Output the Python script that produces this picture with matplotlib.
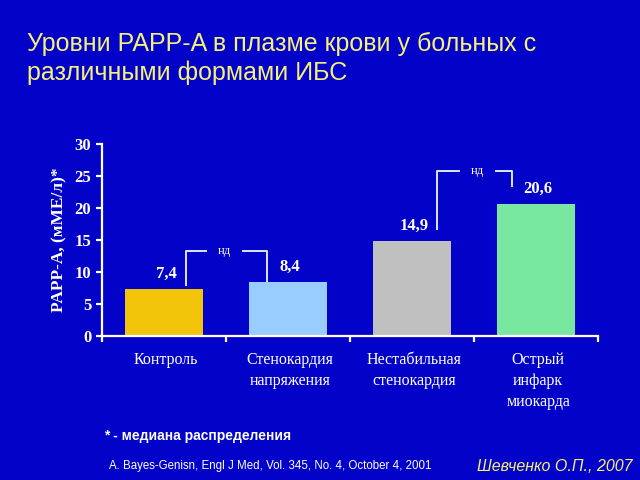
import numpy as np
import matplotlib.pyplot as plt

# данные
groups = ['Контроль', 'Стенокардия\nнапряжения', 'Нестабильная\nстенокардия', 'Острый\nинфарк\nмиокарда']
values = [7.4, 8.4, 14.9, 20.6]
value_labels = ['7,4', '8,4', '14,9', '20,6']
colors = ['#F2C40A', '#99CCFF', '#C0C0C0', '#78E8A0']

bg = '#0202C8'
yellow = '#F5F07A'

plt.rcParams['font.family'] = ['Liberation Serif', 'DejaVu Serif']

fig = plt.figure(figsize=(6.4, 4.8), dpi=100, facecolor=bg)
ax = fig.add_axes([0.159, 0.30, 0.775, 0.40], facecolor=bg)

x = np.arange(len(values))
ax.bar(x, values, width=0.63, color=colors, edgecolor='none')

ax.set_xlim(-0.5, 3.5)
ax.set_ylim(0, 30)
ax.set_yticks(range(0, 31, 5))
ax.set_xticks(np.arange(-0.5, 4, 1))
ax.set_xticklabels([])
for s in ['top', 'right']:
    ax.spines[s].set_visible(False)
for s in ['left', 'bottom']:
    ax.spines[s].set_color('white')
    ax.spines[s].set_linewidth(1.6)
ax.tick_params(colors='white', width=1.6, length=4)
for lab in ax.get_yticklabels():
    lab.set_fontweight('bold')
    lab.set_fontsize(12)
    lab.set_color('white')

ax.set_ylabel('PAPP-A, (мМЕ/л)*', color='white', fontsize=12.5, fontweight='bold', labelpad=5)

# подписи категорий
for i, g in enumerate(groups):
    ax.text(i + 0.02, -2.5, g, ha='center', va='top', color='white', fontsize=11.5,
            linespacing=1.4, clip_on=False)

# значения над столбцами
for i, (v, t) in enumerate(zip(values, value_labels)):
    ax.text(i + 0.02, v + 1.1, t, ha='center', va='bottom', color='white',
            fontsize=12, fontweight='bold')

# скобки "нд"
def bracket(x1, y1, x2, y2, top, xt):
    kw = dict(color='#DDE6FF', lw=1.4)
    ax.plot([x1, x1, xt - 0.15], [y1, top, top], **kw)
    ax.plot([xt + 0.15, x2, x2], [top, top, y2], **kw)
    ax.text(xt, top, 'нд', ha='center', va='center', color='white', fontsize=9)

bracket(0.18, 8.0, 0.83, 8.6, 13.3, 0.49)
bracket(2.2, 16.7, 2.81, 23.4, 25.8, 2.53)

# заголовок и подписи
fig.text(0.042, 0.878, 'Уровни PAPP-A в плазме крови у больных с\nразличными формами ИБС',
         color=yellow, fontsize=18, family=['Liberation Sans', 'DejaVu Sans'],
         va='center', ha='left', linespacing=1.25)
fig.text(0.162, 0.092, '* - медиана распределения', color='white', fontsize=10,
         fontweight='bold', family=['Liberation Sans', 'DejaVu Sans'], va='center')
fig.text(0.17, 0.029, 'A. Bayes-Genisn, Engl J Med, Vol. 345, No. 4, October 4, 2001',
         color='white', fontsize=8.3, family=['Liberation Sans', 'DejaVu Sans'],
         va='center')
fig.text(0.989, 0.029, 'Шевченко О.П., 2007', color=yellow, fontsize=11.5, style='italic',
         family=['Liberation Sans', 'DejaVu Sans'], va='center', ha='right')

fig.savefig('out.png', dpi=100, facecolor=bg)
